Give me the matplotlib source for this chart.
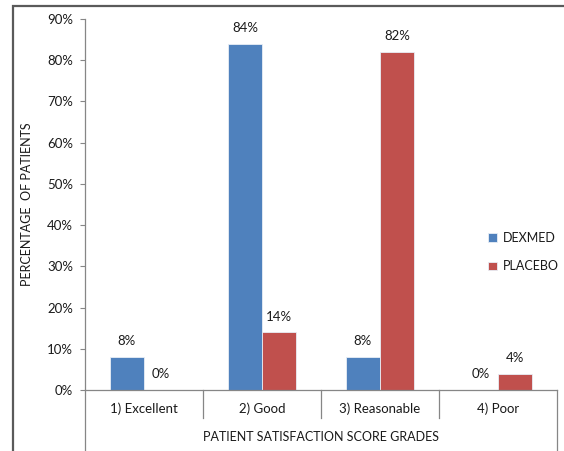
import matplotlib
matplotlib.use("Agg")
import matplotlib.pyplot as plt
import numpy as np
from matplotlib.lines import Line2D
from matplotlib.patches import Rectangle
from matplotlib.ticker import FuncFormatter, MultipleLocator

categories = ["1) Excellent", "2) Good", "3) Reasonable", "4) Poor"]
dexmed = [8, 84, 8, 0]
placebo = [0, 14, 82, 4]
series_names = ["DEXMED", "PLACEBO"]
colors = ["#4F81BD", "#C0504D"]

plt.rcParams['font.family'] = ['Lato', 'DejaVu Sans']
W, H = 564, 451
fig = plt.figure(figsize=(W / 100, H / 100), dpi=100)

def fx(px):
    return px / W

def fy(py):
    return 1 - py / H

x0, x1, y0, y1 = 85, 557, 390, 19
ax = fig.add_axes([fx(x0), fy(y0), fx(x1) - fx(x0), fy(y1) - fy(y0)])

TXT = "#1a1a1a"
n = len(categories)
x = np.arange(n)
bw = 0.29
for i, (vals, name, c) in enumerate(zip([dexmed, placebo], series_names, colors)):
    pos = x + (i - 0.5) * bw
    ax.bar(pos, vals, width=bw, color=c, edgecolor="#E8EEF6", linewidth=0.6, label=name)
    for xp, v in zip(pos, vals):
        ax.annotate(f"{v}%", (xp, v), xytext=(0, 7), textcoords="offset points",
                    ha="center", va="bottom", fontsize=9.5, color=TXT)

ax.set_xlim(-0.5, n - 0.5)
ax.set_ylim(0, 90)
ax.yaxis.set_major_locator(MultipleLocator(10))
ax.yaxis.set_major_formatter(FuncFormatter(lambda v, p: f"{int(round(v))}%"))
ax.tick_params(axis="y", direction="out", length=3.6, width=0.8, color="#868686",
               labelsize=9.5, labelcolor=TXT, pad=5)
ax.set_xticks([])
for s in ["top", "right"]:
    ax.spines[s].set_visible(False)
for s in ["left", "bottom"]:
    ax.spines[s].set_color("#868686")
    ax.spines[s].set_linewidth(0.9)

ax.set_ylabel("PERCENTAGE  OF PATIENTS", fontsize=9, color=TXT, labelpad=10)

blend = matplotlib.transforms.blended_transform_factory(ax.transData, fig.transFigure)
for i, cat in enumerate(categories):
    ax.text(i, fy(409), cat, transform=blend, ha="center", va="center",
            fontsize=9.5, color=TXT)
for b in np.arange(-0.5, n, 1.0):
    bottom = fy(418) if -0.5 < b < n - 0.5 else 0
    fig.add_artist(Line2D([b, b], [fy(y0), bottom], transform=blend, color="#868686", lw=0.9))
fig.text((fx(x0) + fx(x1)) / 2, fy(437), "PATIENT SATISFACTION SCORE GRADES",
         ha="center", va="center", fontsize=9, color=TXT)

leg = fig.legend(loc="upper left", bbox_to_anchor=(fx(483), fy(227)), frameon=False,
                 fontsize=9, handlelength=0.7, handleheight=0.7, handletextpad=0.5,
                 labelspacing=1.3, borderaxespad=0)
for t in leg.get_texts():
    t.set_color(TXT)

fig.add_artist(Rectangle((fx(13), -0.1), 1.2, fy(6) + 0.1, transform=fig.transFigure,
                         fill=False, edgecolor="#5a5a5a", lw=1.6))

fig.savefig("out.png", dpi=100)
